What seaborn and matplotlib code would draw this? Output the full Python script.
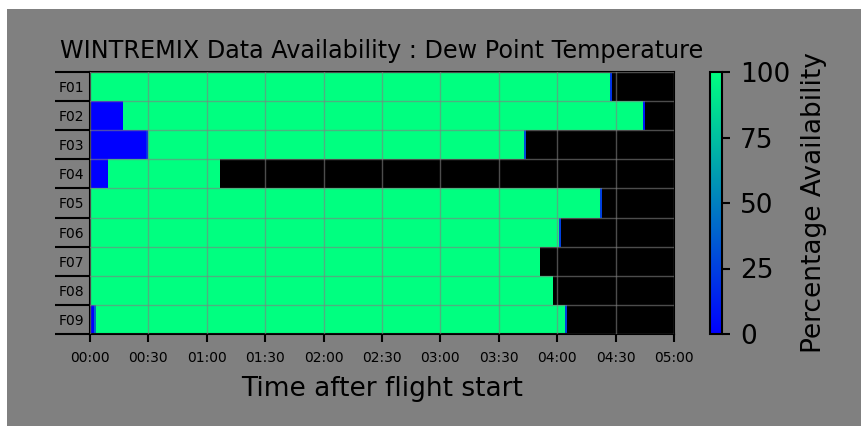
import numpy as np
import pandas as pd
import matplotlib
matplotlib.use("Agg")
import matplotlib.pyplot as plt
from matplotlib.patches import Rectangle
import seaborn as sns

flights = ["F01", "F02", "F03", "F04", "F05", "F06", "F07", "F08", "F09"]
n_minutes = 300

# availability runs from flight start: (percentage, duration in minutes)
# anything after the last run has no data
f01_runs = [(100, 267), (20, 1)]
f02_runs = [(0, 17), (100, 267), (10, 1)]
f03_runs = [(0, 29), (20, 1), (100, 193), (30, 1)]
f04_runs = [(0, 9), (100, 58)]
f05_runs = [(100, 262), (25, 1)]
f06_runs = [(100, 241), (25, 1)]
f07_runs = [(100, 231)]
f08_runs = [(100, 238)]
f09_runs = [(0, 2), (40, 1), (100, 241), (25, 1)]

all_runs = [f01_runs, f02_runs, f03_runs, f04_runs, f05_runs,
            f06_runs, f07_runs, f08_runs, f09_runs]

tick_minutes = list(range(0, n_minutes + 1, 30))
tick_labels = [f"{m // 60:02d}:{m % 60:02d}" for m in tick_minutes]

rows = []
for runs in all_runs:
    row = np.full(n_minutes, np.nan)
    pos = 0
    for val, dur in runs:
        row[pos:pos + dur] = val
        pos += dur
    rows.append(row)
avail = pd.DataFrame(rows, index=flights)

W, H = 861, 426
fig = plt.figure(figsize=(W / 100, H / 100), dpi=100, facecolor="white")
fig.add_artist(Rectangle((7 / W, 0), 1, 1 - 9 / H, transform=fig.transFigure,
                         facecolor="gray", edgecolor="none", zorder=0))

ax = fig.add_axes([90 / W, 1 - 334 / H, 584 / W, 262 / H])
cax = fig.add_axes([710 / W, 1 - 334 / H, 12 / W, 262 / H])

sns.heatmap(avail, ax=ax, cbar_ax=cax, cmap="winter", vmin=0, vmax=100,
            xticklabels=False, yticklabels=False,
            cbar_kws={"label": "Percentage Availability", "ticks": [0, 25, 50, 75, 100]})

ax.set_facecolor("black")
for s in ax.spines.values():
    s.set_visible(True)
    s.set_color("black")
    s.set_linewidth(1.5)

ax.set_xticks(tick_minutes)
ax.set_xticklabels(tick_labels, fontsize=10, rotation=0)
ax.set_yticks(np.arange(len(flights)) + 0.5)
ax.set_yticklabels(flights, fontsize=10, rotation=0)
ax.set_yticks(np.arange(len(flights) + 1), minor=True)
ax.tick_params(axis="x", which="major", length=6, width=1.5, pad=6)
ax.tick_params(axis="y", which="major", length=0, pad=4)
ax.tick_params(axis="y", which="minor", length=25, width=1.5)

ax.set_axisbelow(False)
ax.grid(True, axis="x", which="major", color="gray", alpha=0.6, linewidth=1)
ax.grid(True, axis="y", which="minor", color="gray", alpha=0.6, linewidth=1)

ax.set_xlabel("Time after flight start", fontsize=19, labelpad=8)
ax.set_ylabel("")
ax.set_title("WINTREMIX Data Availability : Dew Point Temperature", fontsize=17.2, pad=10)

cax.tick_params(labelsize=19, length=6, width=1.5, pad=7)
cax.set_ylabel("Percentage Availability", fontsize=19, labelpad=8)
cbar = ax.collections[0].colorbar
cbar.outline.set_edgecolor("black")
cbar.outline.set_linewidth(1.5)

fig.savefig("out.png", dpi=100)
